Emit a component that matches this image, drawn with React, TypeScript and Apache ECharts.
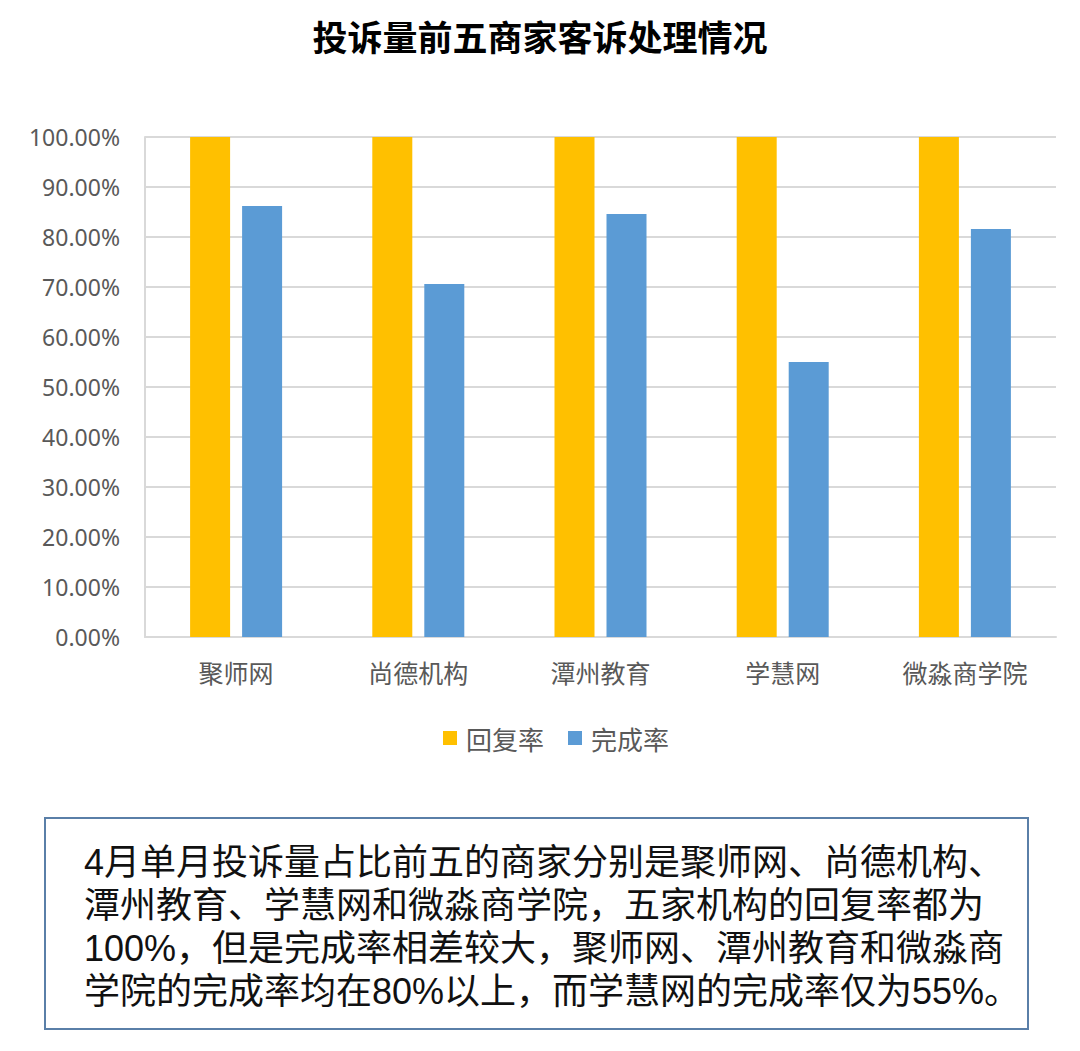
import React, { useEffect, useRef } from "react";
import * as echarts from "echarts";

const title = "投诉量前五商家客诉处理情况";
const categories = ["聚师网", "尚德机构", "潭州教育", "学慧网", "微淼商学院"];
const seriesNames = ["回复率", "完成率"];
const replyRate = [100, 100, 100, 100, 100];
const completeRate = [86.2, 70.6, 84.6, 55.0, 81.6];
const yTicks = { min: 0, max: 100, interval: 10 };
const summaryLines = [
  "4月单月投诉量占比前五的商家分别是聚师网、尚德机构、",
  "潭州教育、学慧网和微淼商学院，五家机构的回复率都为",
  "100%，但是完成率相差较大，聚师网、潭州教育和微淼商",
  "学院的完成率均在80%以上，而学慧网的完成率仅为55%。",
];

export default function App() {
  const ref = useRef<HTMLDivElement>(null);
  useEffect(() => {
    document.body.style.margin = "0";
    const chart = echarts.init(ref.current!, null, { renderer: "svg" });
    const font = "'Noto Sans', 'Noto Sans CJK SC', sans-serif";
    const cjk = "'Noto Sans CJK SC', sans-serif";
    chart.setOption({
      animation: false,
      backgroundColor: "#ffffff",
      title: {
        text: title,
        left: "center",
        top: 13,
        textStyle: {
          fontSize: 35,
          fontWeight: "bold",
          color: "#000000",
          fontFamily: cjk,
        },
      },
      legend: {
        data: seriesNames,
        left: 438,
        top: 720,
        itemWidth: 14,
        itemHeight: 14,
        itemGap: 24,
        icon: "rect",
        textStyle: {
          fontSize: 26,
          color: "#595959",
          fontFamily: cjk,
          padding: [0, 0, 0, 4],
        },
      },
      grid: { left: 145, right: 24, top: 137, bottom: 414 },
      xAxis: {
        type: "category",
        data: categories,
        axisLine: { show: true, lineStyle: { color: "#d9d9d9", width: 2 } },
        axisTick: { show: false },
        axisLabel: {
          fontSize: 25,
          color: "#595959",
          margin: 22,
          fontFamily: cjk,
        },
      },
      yAxis: {
        type: "value",
        min: yTicks.min,
        max: yTicks.max,
        interval: yTicks.interval,
        axisLine: { show: true, lineStyle: { color: "#d9d9d9", width: 2 } },
        axisTick: { show: false },
        splitLine: { lineStyle: { color: "#d9d9d9", width: 2 } },
        axisLabel: {
          fontSize: 23,
          color: "#595959",
          margin: 25,
          fontFamily: font,
          formatter: (v: number) => v.toFixed(2) + "%",
        },
      },
      series: [
        {
          name: seriesNames[0],
          type: "bar",
          data: replyRate,
          barWidth: 40,
          barGap: "30%",
          itemStyle: { color: "#FFC000" },
        },
        {
          name: seriesNames[1],
          type: "bar",
          data: completeRate,
          barWidth: 40,
          itemStyle: { color: "#5B9BD5" },
        },
      ],
      graphic: [
        {
          type: "rect",
          shape: { x: 45, y: 818, width: 983, height: 211 },
          style: { fill: "#ffffff", stroke: "#5A7FA8", lineWidth: 2 },
        },
        ...summaryLines.map((line, i) => ({
          type: "text",
          x: 84,
          y: 862 + i * 43,
          style: {
            text: line,
            fontSize: 36,
            fill: "#111111",
            fontFamily: "'Liberation Sans', 'Noto Sans CJK SC', sans-serif",
            verticalAlign: "middle",
          },
        })),
      ],
    });
    return () => chart.dispose();
  }, []);
  return <div ref={ref} style={{ width: 1080, height: 1051 }} />;
}
